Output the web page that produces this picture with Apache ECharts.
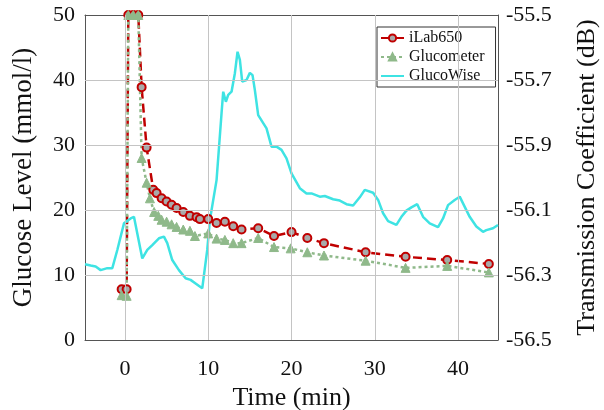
<!DOCTYPE html>
<html>
<head>
<meta charset="utf-8">
<script src="https://cdn.jsdelivr.net/npm/echarts@6/dist/echarts.min.js"></script>
<style>html,body{margin:0;padding:0;background:#fff}#c{width:604px;height:410px}</style>
</head>
<body>
<div id="c"></div>
<script>
const seriesNames = ['iLab650', 'Glucometer', 'GlucoWise'];
const xTickLabels = [0, 10, 20, 30, 40];
const leftTickLabels = [0, 10, 20, 30, 40, 50];
const rightTickLabels = [-56.5, -56.3, -56.1, -55.9, -55.7, -55.5];

const labTime = [-0.4, 0.2, 0.4, 1.0, 1.6, 2.0, 2.6, 3.4, 3.8, 4.4, 5.0, 5.6, 6.2, 7.0, 7.8, 8.6, 9.0, 10.0, 11.0, 12.0, 13.0, 14.0, 16.0, 17.9, 20.0, 21.9, 23.9, 28.9, 33.7, 38.7, 43.7];
const labValue = [7.8, 7.8, 50, 50, 50, 38.9, 29.6, 23.1, 22.6, 21.8, 21.3, 20.8, 20.3, 19.7, 19.1, 18.9, 18.6, 18.6, 18.0, 18.2, 17.5, 17.0, 17.2, 16.0, 16.6, 15.7, 14.9, 13.5, 12.8, 12.3, 11.7];

const meterTime = [-0.4, 0.2, 0.4, 1.0, 1.6, 2.0, 2.6, 3.0, 3.5, 4.0, 4.4, 5.0, 5.6, 6.2, 7.0, 7.8, 8.4, 10.0, 11.0, 12.0, 13.0, 14.0, 16.0, 17.9, 19.9, 21.9, 23.9, 28.9, 33.7, 38.7, 43.7];
const meterValue = [6.9, 6.8, 50, 50, 50, 28.0, 24.2, 21.8, 19.7, 19.1, 18.5, 18.2, 17.8, 17.4, 17.0, 16.8, 16.0, 16.4, 15.6, 15.4, 14.9, 14.9, 15.7, 14.3, 14.1, 13.5, 13.0, 12.2, 11.1, 11.4, 10.4];

const wiseTime = [-4.8, -4.12, -3.52, -2.92, -2.12, -1.52, -0.92, -0.12, 0.68, 1.08, 2.08, 2.68, 3.28, 4.08, 4.68, 5.08, 5.68, 6.48, 7.28, 7.88, 8.48, 9.28, 9.88, 10.2, 11.0, 11.6, 11.8, 12.12, 12.4, 12.8, 13.2, 13.52, 13.8, 14.08, 14.6, 15.0, 15.32, 15.6, 16.0, 17.0, 17.6, 18.2, 18.8, 19.4, 20.0, 21.0, 21.8, 22.4, 23.4, 24.0, 25.0, 25.8, 26.6, 27.4, 28.2, 28.8, 29.8, 30.4, 31.0, 31.6, 32.6, 33.2, 33.8, 34.4, 35.1, 35.8, 36.6, 37.6, 38.2, 38.8, 39.6, 40.2, 41.4, 42.2, 43.0, 43.4, 44.2, 44.8];
const wiseValue = [-56.267, -56.271, -56.274, -56.285, -56.279, -56.279, -56.223, -56.141, -56.126, -56.121, -56.249, -56.223, -56.208, -56.187, -56.182, -56.202, -56.254, -56.285, -56.310, -56.315, -56.326, -56.341, -56.223, -56.131, -56.008, -55.802, -55.736, -55.767, -55.746, -55.736, -55.679, -55.613, -55.638, -55.705, -55.700, -55.678, -55.685, -55.731, -55.808, -55.849, -55.905, -55.905, -55.915, -55.941, -55.987, -56.033, -56.049, -56.049, -56.059, -56.057, -56.067, -56.071, -56.082, -56.086, -56.061, -56.038, -56.047, -56.069, -56.110, -56.134, -56.146, -56.121, -56.102, -56.092, -56.082, -56.121, -56.141, -56.153, -56.126, -56.085, -56.069, -56.059, -56.121, -56.151, -56.167, -56.162, -56.156, -56.146];

const pair = (xs, ys) => xs.map((x, i) => [x, ys[i]]);
const font = 'Liberation Serif';
const txt = '#111';
const axisCol = '#555';
const gridCol = '#c4c4c4';

const gridLineData = xTickLabels.map(v => ({xAxis: v}))
  .concat(leftTickLabels.filter(v => v > 0 && v < 50).map(v => ({yAxis: v})));

const chart = echarts.init(document.getElementById('c'));
chart.setOption({
  animation: false,
  grid: {left: 85, right: 106, top: 15, bottom: 70, outerBoundsMode: 'none'},
  legend: {
    orient: 'vertical', left: 377, top: 27,
    padding: [3, 11, 3, 3], itemGap: 3, itemWidth: 23, itemHeight: 9,
    borderColor: '#333', borderWidth: 1, backgroundColor: '#fff',
    textStyle: {fontFamily: font, fontSize: 16, color: txt},
    data: [seriesNames[0], seriesNames[1], {name: seriesNames[2], itemStyle: {opacity: 0}}]
  },
  xAxis: [
    {
      type: 'value', min: -4.8, max: 44.8, splitNumber: 5,
      axisLine: {show: true, onZero: false, lineStyle: {color: axisCol}},
      axisTick: {show: true, inside: true, length: 4, lineStyle: {color: axisCol}},
      axisLabel: {fontFamily: font, fontSize: 22, color: txt, margin: 18,
        formatter: v => (xTickLabels.indexOf(v) >= 0 ? String(v) : '')},
      splitLine: {show: true, lineStyle: {color: gridCol, width: 1}},
      name: 'Time (min)', nameLocation: 'middle', nameGap: 36,
      nameTextStyle: {fontFamily: font, fontSize: 26, color: txt}
    },
    {
      type: 'value', position: 'top', min: -4.8, max: 44.8, splitNumber: 5,
      axisLine: {show: true, onZero: false, lineStyle: {color: axisCol}},
      axisTick: {show: false}, axisLabel: {show: false}, splitLine: {show: false}
    }
  ],
  yAxis: [
    {
      type: 'value', min: 0, max: 50, interval: 10, position: 'left',
      axisLine: {show: true, onZero: false, lineStyle: {color: axisCol}},
      axisTick: {show: true, inside: true, length: 4, lineStyle: {color: axisCol}},
      axisLabel: {fontFamily: font, fontSize: 22, color: txt, margin: 10,
        formatter: v => { const t = leftTickLabels.find(r => Math.abs(r - v) < 1e-6); return t === undefined ? '' : String(t); }},
      splitLine: {show: true, lineStyle: {color: gridCol, width: 1}},
      name: 'Glucose Level (mmol/l)', nameLocation: 'middle', nameGap: 48,
      nameTextStyle: {fontFamily: font, fontSize: 27, color: txt}
    },
    {
      type: 'value', min: -56.5, max: -55.5, interval: 0.2, position: 'right',
      axisLine: {show: true, onZero: false, lineStyle: {color: axisCol}},
      axisTick: {show: true, inside: true, length: 4, lineStyle: {color: axisCol}},
      axisLabel: {fontFamily: font, fontSize: 22, color: txt, margin: 8,
        formatter: v => { const t = rightTickLabels.find(r => Math.abs(r - v) < 1e-6); return t === undefined ? '' : t.toFixed(1); }},
      splitLine: {show: false},
      name: 'Transmission Coefficient (dB)', nameLocation: 'middle', nameGap: 76,
      nameTextStyle: {fontFamily: font, fontSize: 26, color: txt}
    }
  ],
  series: [
    {
      name: 'gridlines', type: 'line', xAxisIndex: 0, yAxisIndex: 0, data: [], z: 1,
      silent: true, symbol: 'none',
      markLine: {
        silent: true, symbol: 'none', animation: false,
        label: {show: false},
        lineStyle: {color: gridCol, width: 1, type: 'solid'},
        emphasis: {disabled: true},
        data: gridLineData
      }
    },
    {
      name: seriesNames[0], type: 'line', xAxisIndex: 0, yAxisIndex: 0, data: pair(labTime, labValue),
      symbol: 'circle', symbolSize: 8, showAllSymbol: true, z: 3,
      itemStyle: {color: '#a9a9a9', borderColor: '#c00000', borderWidth: 2},
      lineStyle: {color: '#c00000', width: 2.5, type: [9, 5]}
    },
    {
      name: seriesNames[1], type: 'line', xAxisIndex: 0, yAxisIndex: 0, data: pair(meterTime, meterValue),
      symbol: 'triangle', symbolSize: 9, showAllSymbol: true, z: 3,
      itemStyle: {color: '#8fb98a', borderColor: '#8fb98a', borderWidth: 1},
      lineStyle: {color: '#8fb98a', width: 2.5, type: [3, 3]}
    },
    {
      name: seriesNames[2], type: 'line', xAxisIndex: 0, yAxisIndex: 1, data: pair(wiseTime, wiseValue),
      symbol: 'none', showSymbol: false, z: 3,
      itemStyle: {color: '#3ee3e3'},
      lineStyle: {color: '#3ee3e3', width: 2.5}
    }
  ]
});
</script>
</body>
</html>
